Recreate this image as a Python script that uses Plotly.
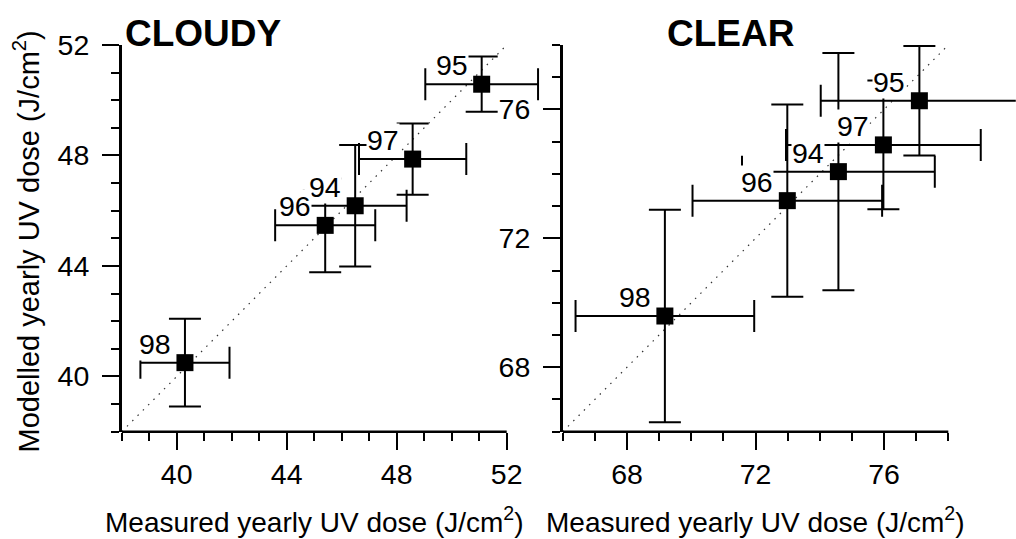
import plotly.graph_objects as go

# ---- data ----
years = ["94", "95", "96", "97", "98"]

cloudy_measured = [46.49, 51.09, 45.40, 48.58, 40.30]
cloudy_modelled = [46.18, 50.58, 45.47, 47.87, 40.50]
cloudy_measured_err = [1.87, 2.05, 1.82, 1.95, 1.62]
cloudy_modelled_err = [2.20, 1.00, 1.70, 1.29, 1.59]

clear_measured = [74.58, 77.10, 72.99, 75.98, 69.18]
clear_modelled = [74.07, 76.27, 73.17, 74.90, 69.59]
clear_measured_err = [3.00, 3.07, 2.95, 3.03, 2.78]
clear_modelled_err = [3.68, 1.70, 2.98, 2.00, 3.30]

cloudy_range = [38, 52]
clear_range = [66, 78]
cloudy_ticks = [40, 44, 48, 52]
clear_ticks = [68, 72, 76]

W, H = 1016, 539
FONT = "Liberation Sans, Arial, sans-serif"

# pixel geometry of the two frames
L_X0, L_X1 = 121.7, 506.7
R_X0, R_X1 = 562.7, 948.3
Y_TOP, Y_BOT = 45.0, 431.7
# extra room on the right so that error bars running past the axis end are not clipped
L_EXTRA = 1.5   # data units beyond 52
R_EXTRA = 2.1   # data units beyond 78

fig = go.Figure()

def add_panel(xs, ys, xe, ye, rng, xa, ya):
    # 1:1 reference line
    fig.add_trace(go.Scatter(
        x=rng, y=rng, mode="lines", xaxis=xa, yaxis=ya,
        line=dict(color="#333333", width=1.2, dash="1.5px,6px"),
        hoverinfo="skip", showlegend=False))
    fig.add_trace(go.Scatter(
        x=xs, y=ys, mode="markers", xaxis=xa, yaxis=ya,
        marker=dict(symbol="square", size=17, color="black"),
        error_x=dict(type="data", array=xe, visible=True, color="black",
                     thickness=2, width=16),
        error_y=dict(type="data", array=ye, visible=True, color="black",
                     thickness=2, width=16),
        cliponaxis=False, showlegend=False))
    for lab, x, y in zip(years, xs, ys):
        fig.add_annotation(x=x, y=y, xref=xa, yref=ya, text=lab,
                           showarrow=False, xshift=-30, yshift=19,
                           bgcolor="white", borderpad=0,
                           font=dict(family=FONT, size=28.5, color="black"))
    # x axis line only over the nominal range
    fig.add_shape(type="line", xref=xa, yref=ya + " domain",
                  x0=rng[0], x1=rng[1], y0=0, y1=0,
                  line=dict(color="black", width=2.5), layer="above")

add_panel(cloudy_measured, cloudy_modelled, cloudy_measured_err,
          cloudy_modelled_err, cloudy_range, "x", "y")
add_panel(clear_measured, clear_modelled, clear_measured_err,
          clear_modelled_err, clear_range, "x2", "y2")

ybot = 1 - Y_BOT / H
ytop = 1 - Y_TOP / H

def xaxis(rng, extra, ticks, x0, x1, anchor):
    ppu = (x1 - x0) / (rng[1] - rng[0])
    x1e = min(x1 + extra * ppu, W - 0.2)
    extra_eff = (x1e - x1) / ppu
    return dict(
        domain=[x0 / W, x1e / W], anchor=anchor,
        range=[rng[0], rng[1] + extra_eff], autorange=False,
        tickmode="array", tickvals=ticks, ticks="outside", ticklen=17,
        tickwidth=2, tickcolor="black", showline=False,
        showgrid=False, zeroline=False, automargin=False,
        tickfont=dict(family=FONT, size=28.5, color="black"),
        minor=dict(tickmode="array",
                   tickvals=list(range(rng[0], rng[1] + 1)),
                   ticks="outside", ticklen=8, tickwidth=2,
                   tickcolor="black", showgrid=False))

def yaxis(rng, ticks, anchor):
    return dict(
        domain=[ybot, ytop], anchor=anchor, range=rng, autorange=False,
        tickmode="array", tickvals=ticks, ticks="outside", ticklen=17,
        tickwidth=2, tickcolor="black", showline=True, linecolor="black",
        linewidth=2.5, showgrid=False, zeroline=False, automargin=False,
        ticklabelstandoff=7,
        tickfont=dict(family=FONT, size=28.5, color="black"),
        minor=dict(dtick=1, tick0=rng[0], ticks="outside", ticklen=8,
                   tickwidth=2, tickcolor="black", showgrid=False))

fig.update_layout(
    width=W, height=H,
    margin=dict(l=0, r=0, t=0, b=0),
    paper_bgcolor="white", plot_bgcolor="rgba(0,0,0,0)",
    font=dict(family=FONT, color="black"),
    xaxis=xaxis(cloudy_range, L_EXTRA, cloudy_ticks, L_X0, L_X1, "y"),
    yaxis=yaxis(cloudy_range, cloudy_ticks, "x"),
    xaxis2=xaxis(clear_range, R_EXTRA, clear_ticks, R_X0, R_X1, "y2"),
    yaxis2=yaxis(clear_range, clear_ticks, "x2"),
)

# titles
fig.add_annotation(text="<b>CLOUDY</b>", xref="paper", yref="paper",
                   x=123 / W, y=1 - 34 / H, xanchor="left", yanchor="middle",
                   showarrow=False, font=dict(family=FONT, size=37, color="black"))
fig.add_annotation(text="<b>CLEAR</b>", xref="paper", yref="paper",
                   x=730.5 / W, y=1 - 34 / H, xanchor="center", yanchor="middle",
                   showarrow=False, font=dict(family=FONT, size=37, color="black"))
xtitle = "Measured yearly UV dose (J/cm<sup>2</sup>)"
fig.add_annotation(text=xtitle, xref="paper", yref="paper",
                   x=(L_X0 + L_X1) / 2 / W, y=1 - 520 / H,
                   xanchor="center", yanchor="middle",
                   showarrow=False, font=dict(family=FONT, size=28, color="black"))
fig.add_annotation(text=xtitle, xref="paper", yref="paper",
                   x=(R_X0 + R_X1) / 2 / W, y=1 - 520 / H,
                   xanchor="center", yanchor="middle",
                   showarrow=False, font=dict(family=FONT, size=28, color="black"))
fig.add_annotation(text="Modelled yearly UV dose (J/cm<sup>2</sup>)",
                   xref="paper", yref="paper", textangle=-90,
                   x=26 / W, y=1 - 241.5 / H, xanchor="center", yanchor="middle",
                   showarrow=False, font=dict(family=FONT, size=29, color="black"))

fig.write_html("out.html")
